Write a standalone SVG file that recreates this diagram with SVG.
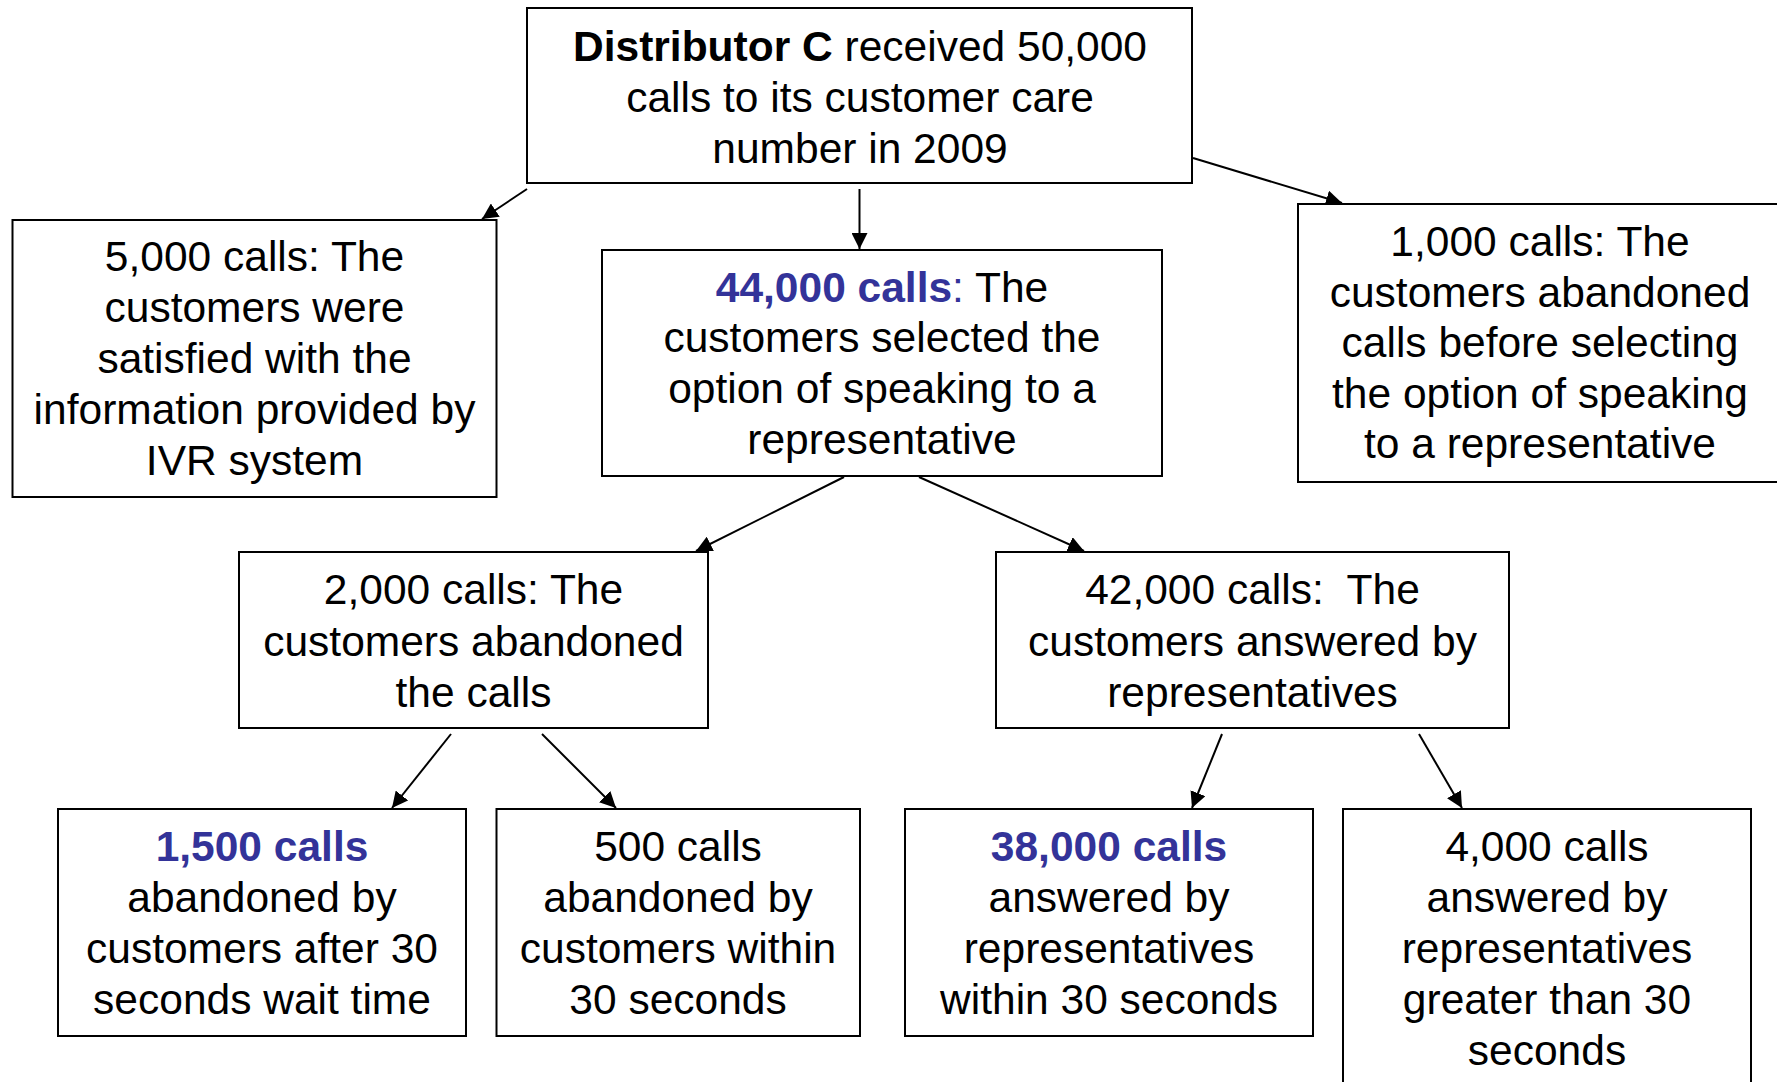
<svg xmlns="http://www.w3.org/2000/svg" width="1777" height="1082" viewBox="0 0 1777 1082">
  <style>
    .box { fill: #ffffff; stroke: #000000; stroke-width: 2; }
    .txt { font-family: "Liberation Sans", Arial, sans-serif; font-size: 42.5px; fill: #000000; text-anchor: middle; }
    .hl { fill: #333399; font-weight: bold; }
    .hlc { fill: #333399; }
    .b { font-weight: bold; }
    .edge { stroke: #000000; stroke-width: 2; fill: none; marker-end: url(#arrow); }
  </style>
  <defs>
    <marker id="arrow" markerUnits="userSpaceOnUse" markerWidth="17" markerHeight="16" refX="16" refY="8" orient="auto">
      <path d="M0,0 L16,8 L0,16 z" fill="#000000"/>
    </marker>
  </defs>
  <rect width="1777" height="1082" fill="#ffffff"/>

  <!-- connectors -->
  <g id="connectors">
    <line class="edge" x1="527" y1="189" x2="482" y2="219"/>
    <line class="edge" x1="859.5" y1="189" x2="859.5" y2="249"/>
    <line class="edge" x1="1193" y1="158" x2="1342" y2="203"/>
    <line class="edge" x1="844" y1="477" x2="696" y2="551"/>
    <line class="edge" x1="919" y1="477" x2="1084" y2="551"/>
    <line class="edge" x1="451" y1="734" x2="392" y2="808"/>
    <line class="edge" x1="542" y1="734" x2="616" y2="808"/>
    <line class="edge" x1="1222" y1="734" x2="1192" y2="808"/>
    <line class="edge" x1="1419" y1="734" x2="1462" y2="808"/>
  </g>

  <!-- root: total calls -->
  <g id="node-total">
    <rect class="box" x="527" y="8" width="665" height="175"/>
    <text class="txt" x="860" y="61"><tspan class="b">Distributor C</tspan> received 50,000</text>
    <text class="txt" x="860" y="112">calls to its customer care</text>
    <text class="txt" x="860" y="163">number in 2009</text>
  </g>

  <g id="node-ivr">
    <rect class="box" x="12.5" y="220" width="484" height="277"/>
    <text class="txt" x="254.5" y="271">5,000 calls: The</text>
    <text class="txt" x="254.5" y="322">customers were</text>
    <text class="txt" x="254.5" y="373">satisfied with the</text>
    <text class="txt" x="254.5" y="424">information provided by</text>
    <text class="txt" x="254.5" y="475">IVR system</text>
  </g>

  <g id="node-representative">
    <rect class="box" x="602" y="250" width="560" height="226"/>
    <text class="txt" x="882" y="302"><tspan class="hl">44,000 calls</tspan><tspan class="hlc">:</tspan> The</text>
    <text class="txt" x="882" y="352">customers selected the</text>
    <text class="txt" x="882" y="403">option of speaking to a</text>
    <text class="txt" x="882" y="454">representative</text>
  </g>

  <g id="node-early-abandon">
    <rect class="box" x="1298" y="204" width="484" height="278"/>
    <text class="txt" x="1540" y="256">1,000 calls: The</text>
    <text class="txt" x="1540" y="307">customers abandoned</text>
    <text class="txt" x="1540" y="357">calls before selecting</text>
    <text class="txt" x="1540" y="408">the option of speaking</text>
    <text class="txt" x="1540" y="458">to a representative</text>
  </g>

  <g id="node-abandoned">
    <rect class="box" x="239" y="552" width="469" height="176"/>
    <text class="txt" x="473.5" y="604">2,000 calls: The</text>
    <text class="txt" x="473.5" y="656">customers abandoned</text>
    <text class="txt" x="473.5" y="707">the calls</text>
  </g>

  <g id="node-answered">
    <rect class="box" x="996" y="552" width="513" height="176"/>
    <text class="txt" x="1252.5" y="604">42,000 calls:&#160; The</text>
    <text class="txt" x="1252.5" y="656">customers answered by</text>
    <text class="txt" x="1252.5" y="707">representatives</text>
  </g>

  <g id="node-abandon-late">
    <rect class="box" x="58" y="809" width="408" height="227"/>
    <text class="txt" x="262" y="861"><tspan class="hl">1,500 calls</tspan></text>
    <text class="txt" x="262" y="912">abandoned by</text>
    <text class="txt" x="262" y="963">customers after 30</text>
    <text class="txt" x="262" y="1014">seconds wait time</text>
  </g>

  <g id="node-abandon-early">
    <rect class="box" x="496.5" y="809" width="363.5" height="227"/>
    <text class="txt" x="678" y="861">500 calls</text>
    <text class="txt" x="678" y="912">abandoned by</text>
    <text class="txt" x="678" y="963">customers within</text>
    <text class="txt" x="678" y="1014">30 seconds</text>
  </g>

  <g id="node-answer-fast">
    <rect class="box" x="905" y="809" width="408" height="227"/>
    <text class="txt" x="1109" y="861"><tspan class="hl">38,000 calls</tspan></text>
    <text class="txt" x="1109" y="912">answered by</text>
    <text class="txt" x="1109" y="963">representatives</text>
    <text class="txt" x="1109" y="1014">within 30 seconds</text>
  </g>

  <g id="node-answer-slow">
    <rect class="box" x="1343" y="809" width="408" height="290"/>
    <text class="txt" x="1547" y="861">4,000 calls</text>
    <text class="txt" x="1547" y="912">answered by</text>
    <text class="txt" x="1547" y="963">representatives</text>
    <text class="txt" x="1547" y="1014">greater than 30</text>
    <text class="txt" x="1547" y="1065">seconds</text>
  </g>
</svg>
